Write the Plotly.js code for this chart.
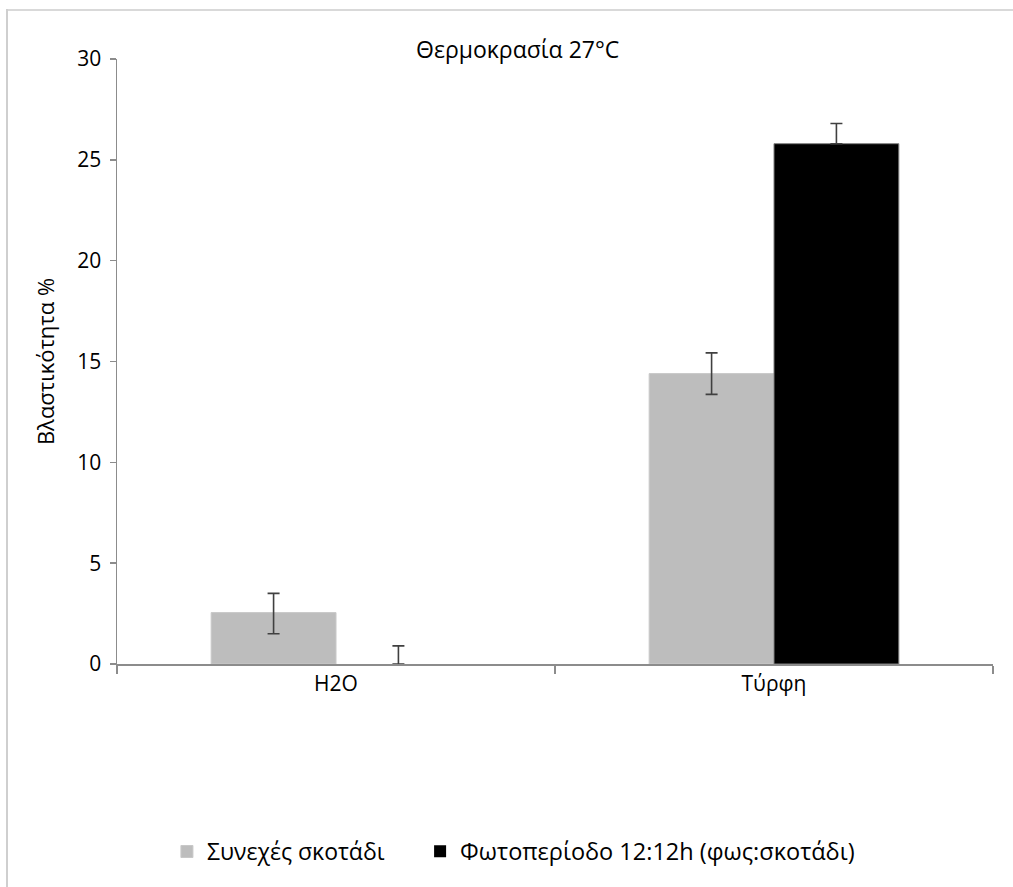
<!DOCTYPE html>
<html>
<head>
<meta charset="utf-8">
<script src="https://cdn.plot.ly/plotly-3.0.1.min.js"></script>
<style>
  html, body { margin: 0; padding: 0; background: #fff; overflow: hidden; }
  #chart { width: 1013px; height: 887px; position: absolute; left: 0; top: 0; }
  #topline { position: absolute; left: 6px; top: 9px; width: 1007px; height: 2px; background: #d9d9d9; pointer-events: none; }
  #leftline { position: absolute; left: 6px; top: 9px; width: 2px; height: 878px; background: #cfcfcf; pointer-events: none; }
</style>
</head>
<body>
<div id="chart"></div>
<div id="topline"></div>
<div id="leftline"></div>
<script>
const categories = ["H2O", "Τύρφη"];
const seriesNames = ["Συνεχές σκοτάδι", "Φωτοπερίοδο 12:12h (φως:σκοτάδι)"];
const darkValues = [2.55, 14.4];
const darkErrPlus = [0.95, 1.03];
const darkErrMinus = [1.05, 1.03];
const lightValues = [0, 25.8];
const lightErrPlus = [0.9, 1.0];
const lightErrMinus = [0, 0];
const yTicks = [0, 5, 10, 15, 20, 25, 30];

const FONT = "Open Sans, Noto Sans, sans-serif";
const errStyle = { type: "data", symmetric: false, color: "#404040", thickness: 1.6, width: 6 };

const traces = [
  {
    type: "bar", name: seriesNames[0], x: categories, y: darkValues, legend: "legend",
    marker: { color: "#bdbdbd", line: { color: "#c8c8c8", width: 1 } },
    error_y: Object.assign({}, errStyle, { array: darkErrPlus, arrayminus: darkErrMinus })
  },
  {
    type: "bar", name: seriesNames[1], x: categories, y: lightValues, legend: "legend2",
    marker: { color: "#000000", line: { color: "#7f7f7f", width: [0, 1] } },
    error_y: Object.assign({}, errStyle, { array: lightErrPlus, arrayminus: lightErrMinus })
  }
];

const legendBase = { orientation: "h", xanchor: "left", y: -0.31, yanchor: "middle",
                     font: { family: FONT, size: 23, color: "#000" }, itemwidth: 30,
                     bgcolor: "rgba(0,0,0,0)" };

const layout = {
  width: 1013, height: 887,
  margin: { l: 117, r: 20, t: 59, b: 223 },
  paper_bgcolor: "#ffffff", plot_bgcolor: "#ffffff",
  font: { family: FONT, color: "#000000", size: 21 },
  title: { text: "Θερμοκρασία 27°C", x: 0.511, xanchor: "center", y: 0.944, yanchor: "middle",
           font: { family: FONT, size: 23, color: "#000" } },
  barmode: "group", bargap: 0.43, bargroupgap: 0,
  showlegend: true,
  legend: Object.assign({}, legendBase, { x: 0.057 }),
  legend2: Object.assign({}, legendBase, { x: 0.346, font: { family: FONT, size: 23.5, color: "#000" } }),
  xaxis: {
    type: "category", tickson: "boundaries", ticks: "outside", ticklen: 8, tickcolor: "#8c8c8c", tickwidth: 1.5,
    showline: true, linecolor: "#8c8c8c", linewidth: 1.5, showgrid: false, zeroline: false,
    tickfont: { family: FONT, size: 21, color: "#000" }, automargin: false
  },
  yaxis: {
    range: [0, 30], tickvals: yTicks, ticktext: yTicks.map(String),
    ticks: "outside", ticklen: 6, tickcolor: "#8c8c8c", tickwidth: 1.5,
    showline: true, linecolor: "#8c8c8c", linewidth: 1.5, showgrid: false, zeroline: false,
    tickfont: { family: FONT, size: 21, color: "#000" }, ticklabelstandoff: 4,
    title: { text: "Βλαστικότητα %", font: { family: FONT, size: 22, color: "#000" }, standoff: 16 },
    automargin: false
  }
};

Plotly.newPlot("chart", traces, layout, { staticPlot: true, displayModeBar: false });
</script>
</body>
</html>
